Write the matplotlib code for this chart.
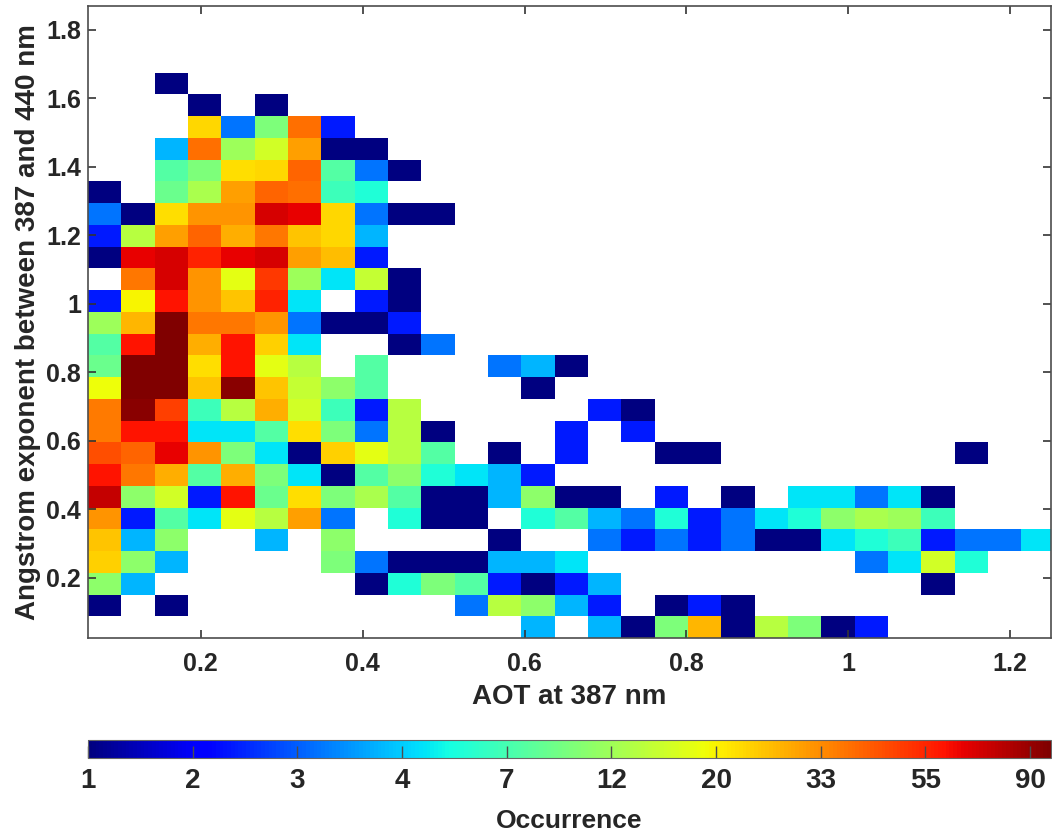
import numpy as np
import matplotlib
matplotlib.use("Agg")
import matplotlib.pyplot as plt

# bin layout
x_start, x_step, n_x = 0.0605, 0.0412, 29
y_start, y_step, n_y = 0.0248, 0.0635, 26

# occurrence counts per cell, top row first (0 = empty)
counts_top_down = [
    [0,0,1,0,0,0,0,0,0,0,0,0,0,0,0,0,0,0,0,0,0,0,0,0,0,0,0,0,0],
    [0,0,0,1,0,1,0,0,0,0,0,0,0,0,0,0,0,0,0,0,0,0,0,0,0,0,0,0,0],
    [0,0,0,23,3,10,38,2,0,0,0,0,0,0,0,0,0,0,0,0,0,0,0,0,0,0,0,0,0],
    [0,0,4,38,12,16,30,1,1,0,0,0,0,0,0,0,0,0,0,0,0,0,0,0,0,0,0,0,0],
    [0,0,8,10,22,23,40,8,3,1,0,0,0,0,0,0,0,0,0,0,0,0,0,0,0,0,0,0,0],
    [1,0,9,13,30,40,38,7,6,0,0,0,0,0,0,0,0,0,0,0,0,0,0,0,0,0,0,0,0],
    [3,1,22,32,32,70,65,23,3,1,1,0,0,0,0,0,0,0,0,0,0,0,0,0,0,0,0,0,0],
    [2,14,30,40,28,37,25,23,4,0,0,0,0,0,0,0,0,0,0,0,0,0,0,0,0,0,0,0,0],
    [1,65,70,55,65,70,30,26,2,0,0,0,0,0,0,0,0,0,0,0,0,0,0,0,0,0,0,0,0],
    [0,37,70,32,18,50,12,5,15,1,0,0,0,0,0,0,0,0,0,0,0,0,0,0,0,0,0,0,0],
    [2,20,60,32,25,55,5,0,2,1,0,0,0,0,0,0,0,0,0,0,0,0,0,0,0,0,0,0,0],
    [12,27,100,37,37,32,3,1,1,2,0,0,0,0,0,0,0,0,0,0,0,0,0,0,0,0,0,0,0],
    [8,60,100,28,60,24,5,0,0,1,3,0,0,0,0,0,0,0,0,0,0,0,0,0,0,0,0,0,0],
    [9,100,100,22,60,18,14,0,8,0,0,0,3,4,1,0,0,0,0,0,0,0,0,0,0,0,0,0,0],
    [19,100,100,25,95,25,15,11,8,0,0,0,0,1,0,0,0,0,0,0,0,0,0,0,0,0,0,0,0],
    [36,95,48,7,14,28,16,7,2,14,0,0,0,0,0,2,1,0,0,0,0,0,0,0,0,0,0,0,0],
    [36,60,60,5,5,8,22,10,3,14,1,0,0,0,2,0,2,0,0,0,0,0,0,0,0,0,0,0,0],
    [45,40,65,32,10,5,1,24,18,14,8,0,1,0,2,0,0,1,1,0,0,0,0,0,0,0,1,0,0],
    [60,37,28,8,28,10,5,1,8,11,6,5,4,2,0,0,0,0,0,0,0,0,0,0,0,0,0,0,0],
    [75,11,16,2,60,9,22,10,13,8,1,1,4,11,1,1,0,2,0,1,0,5,5,3,5,1,0,0,0],
    [32,2,8,5,18,14,30,3,0,6,1,1,0,6,8,4,3,6,2,3,5,6,11,13,12,7,0,0,0],
    [25,4,11,0,0,4,0,11,0,0,0,0,1,0,0,3,2,3,2,3,1,1,5,6,7,2,3,3,5],
    [24,11,4,0,0,0,0,10,3,1,1,1,4,4,5,0,0,0,0,0,0,0,0,3,5,16,6,0,0],
    [11,4,0,0,0,0,0,0,1,6,10,8,2,1,2,4,0,0,0,0,0,0,0,0,0,1,0,0,0],
    [1,0,1,0,0,0,0,0,0,0,0,3,14,11,4,2,0,1,2,1,0,0,0,0,0,0,0,0,0],
    [0,0,0,0,0,0,0,0,0,0,0,0,0,4,0,4,1,10,27,1,14,10,1,2,0,0,0,0,0],
]

x_ticks = [0.2, 0.4, 0.6, 0.8, 1.0, 1.2]
x_ticklabels = ["0.2", "0.4", "0.6", "0.8", "1", "1.2"]
y_ticks = [0.2, 0.4, 0.6, 0.8, 1.0, 1.2, 1.4, 1.6, 1.8]
y_ticklabels = ["0.2", "0.4", "0.6", "0.8", "1", "1.2", "1.4", "1.6", "1.8"]
cb_ticks = [0, 0.5, 1, 1.5, 2, 2.5, 3, 3.5, 4, 4.5]

counts = np.array(counts_top_down[::-1], dtype=float)
xe = x_start + x_step * np.arange(n_x + 1)
ye = y_start + y_step * np.arange(n_y + 1)
C = np.ma.masked_where(counts <= 0, np.log(np.where(counts > 0, counts, 1)))

plt.rcParams["font.family"] = ["Liberation Sans", "DejaVu Sans"]

fig = plt.figure(figsize=(10.52, 8.31), dpi=100)
ax = fig.add_axes([88/1052, 1-638/831, 1-88/1052-0.001, (638-6)/831])
mesh = ax.pcolormesh(xe, ye, C, cmap="jet", vmin=0, vmax=4.6)
ax.set_xlim(x_start, 1.2506)
ax.set_ylim(y_start, 1.87)
ax.set_xticks(x_ticks)
ax.set_xticklabels(x_ticklabels)
ax.set_yticks(y_ticks)
ax.set_yticklabels(y_ticklabels)
ax.tick_params(direction="in", top=True, right=True, length=6, width=1.2,
               color="0.2", labelsize=18, labelcolor="0.15")
ax.tick_params(axis="x", pad=10)
ax.tick_params(axis="y", pad=5)
for lab in ax.get_xticklabels() + ax.get_yticklabels():
    lab.set_fontweight("bold")
for sp in ax.spines.values():
    sp.set_color("0.3")
    sp.set_linewidth(1.2)
ax.set_xlabel("AOT at 387 nm", fontsize=20, fontweight="bold", color="0.15", labelpad=6)
ax.set_ylabel("Angstrom exponent between 387 and 440 nm", fontsize=20,
              fontweight="bold", color="0.15", labelpad=4)

cax = fig.add_axes([88/1052, 1-758/831, 1-88/1052-0.001, 18/831])
cb = fig.colorbar(mesh, cax=cax, orientation="horizontal")
cb.set_ticks(cb_ticks)
cb.set_ticklabels([str(int(round(np.exp(t)))) for t in cb_ticks])
cb.ax.tick_params(direction="in", length=9, width=1, color="0.3", labelsize=20,
                  pad=7, labelcolor="0.15")
for lab in cb.ax.get_xticklabels():
    lab.set_fontweight("bold")
cb.outline.set_edgecolor("0.4")
cb.set_label("Occurrence", fontsize=19, fontweight="bold", color="0.15", labelpad=11)

fig.savefig("out.png", dpi=100)
